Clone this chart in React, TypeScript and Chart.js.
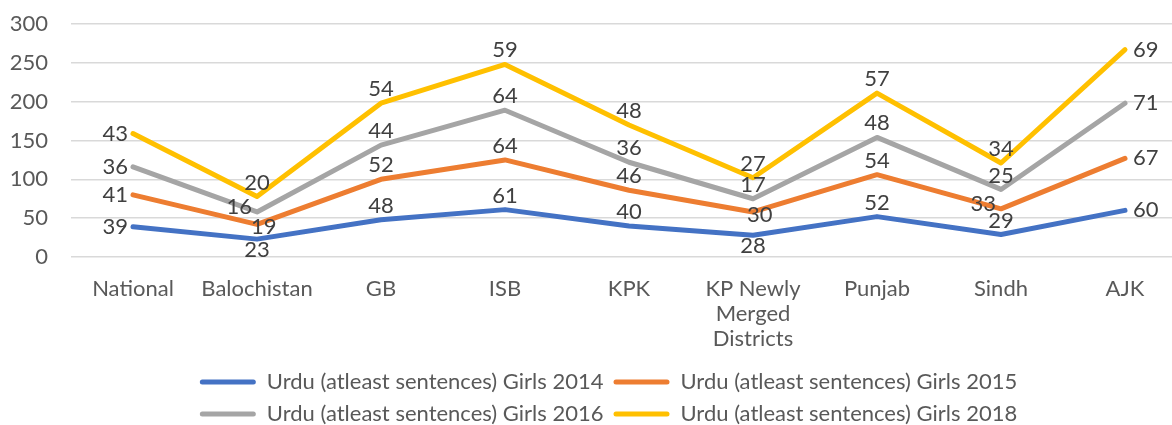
import React, { useEffect, useRef } from "react";
import { Chart, registerables } from "chart.js";

Chart.register(...registerables);

const categories: (string | string[])[] = [
  "National",
  "Balochistan",
  "GB",
  "ISB",
  "KPK",
  ["KP Newly", "Merged", "Districts"],
  "Punjab",
  "Sindh",
  "AJK",
];

const girls2014 = [39, 23, 48, 61, 40, 28, 52, 29, 60];
const girls2015 = [41, 19, 52, 64, 46, 30, 54, 33, 67];
const girls2016 = [36, 16, 44, 64, 36, 17, 48, 25, 71];
const girls2018 = [43, 20, 54, 59, 48, 27, 57, 34, 69];

const seriesNames = [
  "Urdu (atleast sentences) Girls 2014",
  "Urdu (atleast sentences) Girls 2015",
  "Urdu (atleast sentences) Girls 2016",
  "Urdu (atleast sentences) Girls 2018",
];

const yTicks = [0, 50, 100, 150, 200, 250, 300];

const colors = ["#4472C4", "#ED7D31", "#A5A5A5", "#FFC000"];
const FONT = "Lato, 'Open Sans', sans-serif";
const FS = 22;

// label placement exceptions: key "dataset-index"
const placement: Record<string, string> = {
  "0-1": "below",
  "1-1": "right",
  "2-1": "left",
  "0-5": "below",
  "1-5": "right",
  "1-7": "left",
};

const labelPlugin = {
  id: "pointLabels",
  afterLayout(chart: any) {
    if (chart.legend) {
      chart.legend.left += 10;
      chart.legend.right += 10;
    }
  },
  afterDatasetsDraw(chart: any) {
    const ctx = chart.ctx;
    ctx.save();
    ctx.font = `${FS}px ${FONT}`;
    ctx.fillStyle = "#404040";
    chart.data.datasets.forEach((ds: any, di: number) => {
      const meta = chart.getDatasetMeta(di);
      meta.data.forEach((pt: any, i: number) => {
        const v = ds.data[i];
        const n = ds.data.length;
        let pos = placement[`${di}-${i}`];
        if (!pos) pos = i === 0 ? "left" : i === n - 1 ? "right" : "above";
        let x = pt.x;
        let y = pt.y;
        ctx.textBaseline = "middle";
        if (pos === "left") {
          ctx.textAlign = "right";
          x -= 5;
          if (i !== 0) y -= 5;
        } else if (pos === "right") {
          ctx.textAlign = "left";
          x += i === n - 1 ? 8 : -6;
          if (i !== n - 1) y += 3;
        } else if (pos === "below") {
          ctx.textAlign = "center";
          y += 11;
        } else {
          ctx.textAlign = "center";
          y -= 14;
        }
        ctx.fillText(String(v), x, y);
      });
    });
    ctx.restore();
  },
};

export default function App() {
  const ref = useRef<HTMLCanvasElement>(null);
  useEffect(() => {
    if (!ref.current) return;
    const data = [girls2014, girls2015, girls2016, girls2018];
    const chart = new Chart(ref.current, {
      type: "line",
      data: {
        labels: categories,
        datasets: data.map((d, i) => ({
          label: seriesNames[i],
          data: d,
          borderColor: colors[i],
          backgroundColor: colors[i],
          borderWidth: 5,
          pointRadius: 0,
          fill: false,
          tension: 0,
          borderCapStyle: "round",
          borderJoinStyle: "round",
        })),
      },
      options: {
        responsive: false,
        animation: false,
        devicePixelRatio: 1,
        layout: { padding: { left: 10, right: 17, top: 24, bottom: 0 } },
        plugins: {
          tooltip: { enabled: false },
          legend: {
            position: "bottom",
            labels: {
              font: { family: FONT, size: FS },
              color: "#595959",
              boxWidth: 56,
              boxHeight: 5,
              padding: 10,
              useBorderRadius: true,
              borderRadius: 2.5,
              generateLabels: (chart: any) =>
                Chart.defaults.plugins.legend.labels
                  .generateLabels(chart)
                  .map((it: any) => ({ ...it, lineWidth: 0, strokeStyle: "transparent" })),
            },
          },
        },
        scales: {
          x: {
            offset: true,
            grid: { display: false },
            border: { display: false },
            ticks: {
              font: { family: FONT, size: FS, lineHeight: 1.14 },
              color: "#595959",
              maxRotation: 0,
              autoSkip: false,
              padding: 11,
            },
            afterFit: (s: any) => {
              s.height = 104;
              s.paddingTop = 0;
              s.paddingBottom = 0;
            },
          },
          y: {
            stacked: true,
            min: 0,
            max: 300,
            afterBuildTicks: (s: any) => {
              s.ticks = yTicks.map((v) => ({ value: v }));
            },
            grid: { color: "#D9D9D9", lineWidth: 1.5, drawTicks: false },
            border: { display: false },
            ticks: {
              font: { family: FONT, size: FS },
              color: "#595959",
              padding: 23,
            },
            afterFit: (s: any) => {
              s.width = 61;
              s.paddingTop = 0;
              s.paddingBottom = 0;
            },
          },
        },
      },
      plugins: [labelPlugin],
    });
    return () => chart.destroy();
  }, []);
  return (
    <div
      style={{
        position: "fixed",
        left: 0,
        top: 0,
        width: 1172,
        height: 425,
        overflow: "hidden",
        background: "#fff",
      }}
    >
      <canvas ref={ref} width={1204} height={435} style={{ display: "block" }} />
    </div>
  );
}
